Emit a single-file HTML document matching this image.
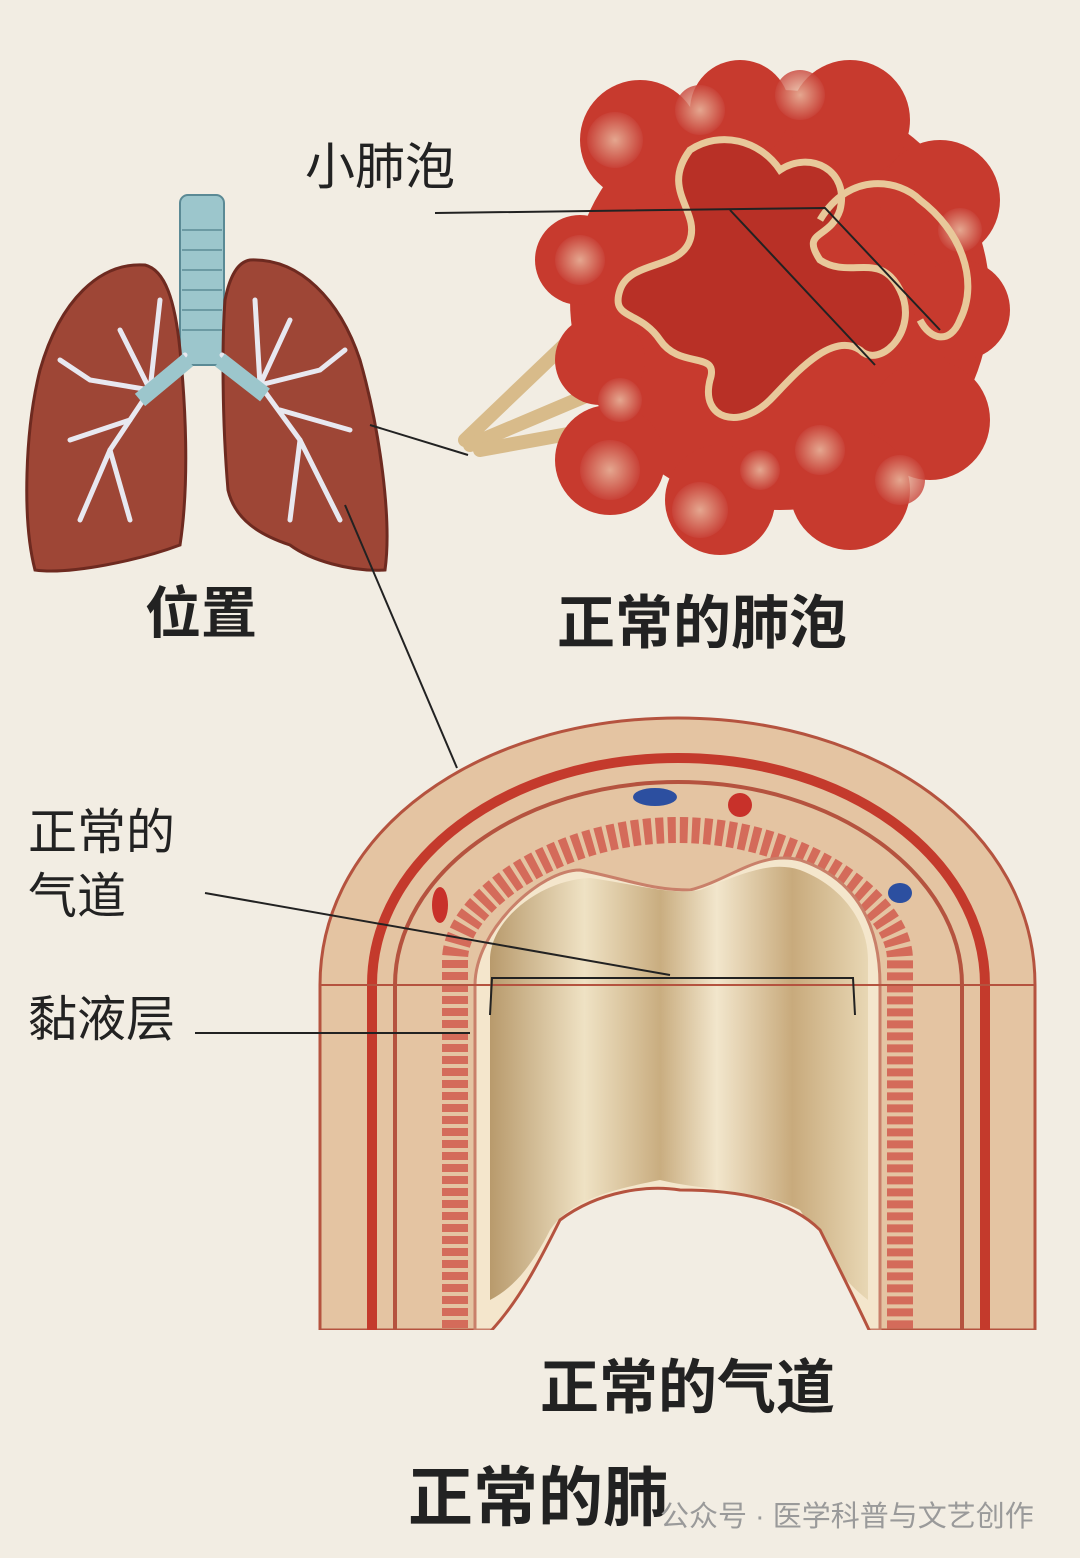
<!DOCTYPE html>
<html><head><meta charset="utf-8"><style>
html,body{margin:0;padding:0;background:#f2ede3;}
svg{display:block}
text{font-family:"Liberation Sans","Noto Sans CJK SC",sans-serif;}
</style></head><body>
<svg width="1080" height="1558" viewBox="0 0 1080 1558" xmlns="http://www.w3.org/2000/svg">
<defs>
<linearGradient id="lumen" x1="0" x2="1" y1="0" y2="0">
<stop offset="0" stop-color="#b89a6c"/><stop offset="0.25" stop-color="#efe2c4"/>
<stop offset="0.45" stop-color="#c9ad80"/><stop offset="0.6" stop-color="#f2e6cc"/>
<stop offset="0.8" stop-color="#c8aa7c"/><stop offset="1" stop-color="#e8d7b4"/>
</linearGradient>
<radialGradient id="blob"><stop offset="0" stop-color="#ecc2a8"/><stop offset="1" stop-color="#c9443a"/></radialGradient>
<clipPath id="aw"><rect x="0" y="0" width="1080" height="1330"/></clipPath>
</defs>
<rect width="1080" height="1558" fill="#f2ede3"/>

<!-- lungs -->
<rect x="180" y="195" width="44" height="170" rx="8" fill="#9cc6cc" stroke="#5b8a95" stroke-width="2"/>
<g stroke="#6c9aa3" stroke-width="2">
<line x1="182" y1="230" x2="222" y2="230"/><line x1="182" y1="250" x2="222" y2="250"/><line x1="182" y1="270" x2="222" y2="270"/>
<line x1="182" y1="290" x2="222" y2="290"/><line x1="182" y1="310" x2="222" y2="310"/><line x1="182" y1="330" x2="222" y2="330"/>
</g>
<path d="M145 265 C100 262 60 300 40 370 C25 430 22 520 35 570 C70 575 140 560 180 545 C190 480 185 400 180 350 C175 300 165 270 145 265Z" fill="#9e4636" stroke="#6e2a20" stroke-width="3"/>
<path d="M250 260 C300 258 340 300 360 360 C380 430 392 520 385 570 C350 572 310 560 290 545 C260 535 235 520 228 490 C222 420 222 340 225 300 C230 275 238 262 250 260Z" fill="#9e4636" stroke="#6e2a20" stroke-width="3"/>
<g stroke="#e8e8f0" stroke-width="5" fill="none" stroke-linecap="round">
<path d="M185 355 L150 390 L110 450 L80 520"/><path d="M150 390 L90 380 L60 360"/><path d="M130 420 L70 440"/><path d="M110 450 L130 520"/><path d="M160 300 L150 390 L120 330"/>
<path d="M222 355 L260 385 L300 440 L340 520"/><path d="M260 385 L320 370 L345 350"/><path d="M280 410 L350 430"/><path d="M300 440 L290 520"/><path d="M255 300 L260 385 L290 320"/>
</g>
<path d="M188 360 L140 400" stroke="#9cc6cc" stroke-width="16"/><path d="M220 360 L265 395" stroke="#9cc6cc" stroke-width="16"/>
<text x="145" y="633" font-size="56" font-weight="bold" fill="#222">位置</text>

<!-- alveoli -->
<g stroke="#d8bb8a" stroke-width="14" stroke-linecap="round">
<line x1="465" y1="440" x2="580" y2="330"/><line x1="470" y1="445" x2="600" y2="390"/><line x1="480" y1="450" x2="590" y2="430"/>
</g>
<g fill="#c73a2e">
<circle cx="780" cy="300" r="210"/><circle cx="640" cy="140" r="60"/><circle cx="740" cy="110" r="50"/><circle cx="850" cy="120" r="60"/>
<circle cx="940" cy="200" r="60"/><circle cx="960" cy="310" r="50"/><circle cx="930" cy="420" r="60"/><circle cx="850" cy="490" r="60"/>
<circle cx="720" cy="500" r="55"/><circle cx="610" cy="460" r="55"/><circle cx="580" cy="260" r="45"/><circle cx="600" cy="360" r="45"/>
</g>
<g fill="url(#blob)" opacity="0.8">
<circle cx="615" cy="140" r="28"/><circle cx="700" cy="110" r="25"/><circle cx="800" cy="95" r="25"/><circle cx="580" cy="260" r="25"/>
<circle cx="610" cy="470" r="30"/><circle cx="700" cy="510" r="28"/><circle cx="820" cy="450" r="25"/><circle cx="900" cy="480" r="25"/>
<circle cx="960" cy="230" r="22"/><circle cx="620" cy="400" r="22"/><circle cx="760" cy="470" r="20"/>
</g>
<path d="M690 150 C720 130 760 140 780 170 C810 150 850 170 840 210 C830 240 800 230 820 260 C850 280 880 250 900 290 C920 330 880 370 860 350 C830 330 790 380 770 400 C740 430 700 420 710 380 C720 350 680 370 660 340 C640 310 610 320 620 290 C630 260 680 270 690 240 C700 210 660 190 690 150Z" fill="#b83026" stroke="#e8c89a" stroke-width="7"/>
<path d="M820 220 C850 170 900 180 920 200 C960 230 980 280 960 320 C950 345 930 340 920 320" fill="none" stroke="#e8c89a" stroke-width="7"/>
<text x="305" y="184" font-size="50" fill="#222">小肺泡</text>
<g stroke="#222" stroke-width="2" fill="none">
<path d="M435 213 L825 208 L940 330"/><path d="M730 210 L875 365"/>
<line x1="370" y1="425" x2="468" y2="455"/>
<line x1="345" y1="505" x2="457" y2="768"/>
</g>
<text x="557" y="643" font-size="58" font-weight="bold" fill="#222">正常的肺泡</text>

<!-- airway -->
<g clip-path="url(#aw)">
<path d="M320 1330 L320 985 C320 830 480 718 678 718 C876 718 1035 830 1035 985 L1035 1330Z" fill="#e4c4a2" stroke="#b5533f" stroke-width="3"/>
<path d="M372 1340 L372 985 C372 860 505 758 678 758 C851 758 985 860 985 985 L985 1340" fill="none" stroke="#c43a2c" stroke-width="10"/>
<path d="M395 1340 L395 985 C395 875 520 782 678 782 C836 782 962 875 962 985 L962 1340" fill="none" stroke="#b5533f" stroke-width="4"/>
<path d="M455 1340 L455 960 C455 900 560 830 678 830 C796 830 900 900 900 960 L900 1340" fill="none" stroke="#d46b5a" stroke-width="26" stroke-dasharray="8 4"/>
<path d="M475 1330 L475 985 C475 930 540 870 580 870 C630 880 650 890 690 890 C730 880 760 850 800 860 C860 880 880 930 880 985 L880 1330Z" fill="#f4e6cc" stroke="#c9806a" stroke-width="3"/>
<path d="M490 1300 L490 960 C490 920 540 880 590 878 C640 885 670 895 700 890 C740 875 770 860 800 870 C840 885 868 920 868 960 L868 1300 C830 1270 820 1240 800 1210 C760 1190 700 1190 660 1180 C610 1190 570 1200 550 1230 C530 1270 510 1290 490 1300Z" fill="url(#lumen)"/>
<path d="M490 1332 C520 1300 540 1260 560 1220 C600 1190 650 1185 680 1190 C740 1190 790 1200 820 1230 C840 1270 860 1310 870 1332Z" fill="#f2ede3" stroke="#b5533f" stroke-width="3"/>
</g>
<line x1="320" y1="985" x2="1035" y2="985" stroke="#b5533f" stroke-width="2"/>
<ellipse cx="655" cy="797" rx="22" ry="9" fill="#2c4fa0"/><circle cx="740" cy="805" r="12" fill="#c8312a"/><ellipse cx="900" cy="893" rx="12" ry="10" fill="#2c4fa0"/>
<ellipse cx="440" cy="905" rx="8" ry="18" fill="#c8312a"/>
<text x="28" y="849" font-size="49" fill="#222">正常的</text>
<text x="28" y="913" font-size="49" fill="#222">气道</text>
<text x="28" y="1036" font-size="49" fill="#222">黏液层</text>
<g stroke="#222" stroke-width="2" fill="none">
<line x1="205" y1="893" x2="670" y2="975"/>
<path d="M490 1015 L492 978 L853 978 L855 1015"/>
<line x1="195" y1="1033" x2="470" y2="1033"/>
</g>
<text x="540" y="1408" font-size="59" font-weight="bold" fill="#222">正常的气道</text>
<text x="408" y="1520" font-size="65" font-weight="bold" fill="#222">正常的肺</text>
<text x="660" y="1526" font-size="29" fill="#9a9a9a">公众号 · 医学科普与文艺创作</text>
</svg>
</body></html>
